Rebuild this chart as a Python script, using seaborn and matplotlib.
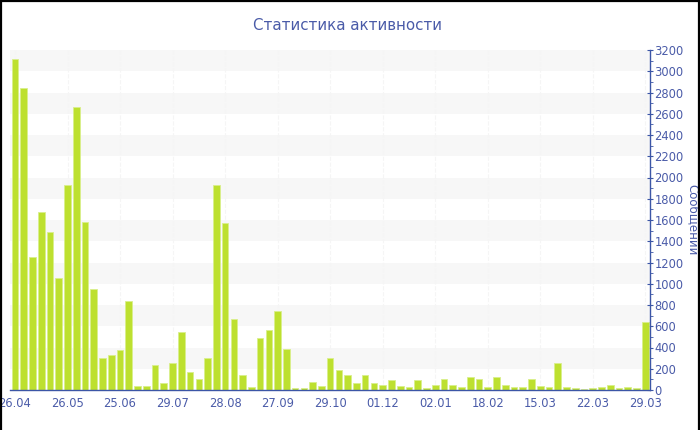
import numpy as np
import pandas as pd
import matplotlib
matplotlib.use("Agg")
import matplotlib.pyplot as plt
import seaborn as sns
from matplotlib.ticker import MultipleLocator

# данные (сообщений за период)
values = [3120, 2840, 1250, 1680, 1490, 1050, 1930, 2660, 1580, 950,
          300, 325, 380, 835, 35, 35, 235, 65, 250, 545,
          166, 107, 300, 1925, 1570, 665, 140, 28, 490, 565,
          740, 390, 22, 22, 80, 38, 300, 185, 140, 66,
          141, 63, 47, 91, 35, 25, 91, 16, 47, 100,
          44, 28, 120, 105, 31, 125, 44, 25, 25, 100,
          41, 25, 250, 31, 16, 9, 16, 28, 47, 19,
          28, 16, 640]
tick_pos = [0, 6, 12, 18, 24, 30, 36, 42, 48, 54, 60, 66, 72]
tick_labels = ["26.04", "26.05", "25.06", "29.07", "28.08", "27.09", "29.10",
               "01.12", "02.01", "18.02", "15.03", "22.03", "29.03"]

TEXT = "#4a5ba8"
AXIS = "#3c56a6"
BAR = "#bde02f"

sns.set_style("white")
plt.rcParams["font.family"] = ["DejaVu Sans"]

df = pd.DataFrame({"idx": range(len(values)), "val": values})

fig = plt.figure(figsize=(7, 4.3), dpi=100)
ax = fig.add_axes([10 / 700, 40 / 430, 639.5 / 700, 340 / 430])

# полосы фона
for y0 in range(200, 3200, 400):
    ax.axhspan(y0, y0 + 200, color="#f7f7f7", zorder=0, lw=0)
for p in tick_pos:
    ax.axvline(p, color="#f5f5f5", lw=0.8, ls="--", zorder=0)

sns.barplot(data=df, x="idx", y="val", color=BAR, width=0.76,
            edgecolor="#d9ef8c", linewidth=0.6, saturation=1, ax=ax, zorder=2)

ax.set_xlim(-0.57, 72.48)
ax.set_ylim(0, 3200)
ax.yaxis.tick_right()
ax.yaxis.set_label_position("right")
ax.yaxis.set_major_locator(MultipleLocator(200))
ax.yaxis.set_minor_locator(MultipleLocator(100))
ax.set_xticks(tick_pos)
ax.set_xticklabels(tick_labels)
ax.set_xlabel("")
ax.set_ylabel("Сообщений", rotation=270, color=TEXT, fontsize=8.5, labelpad=11)

for s in ["top", "left"]:
    ax.spines[s].set_visible(False)
for s in ["bottom", "right"]:
    ax.spines[s].set_color(AXIS)
    ax.spines[s].set_linewidth(1)

ax.tick_params(axis="y", which="major", direction="inout", length=5, color=AXIS,
               labelcolor=TEXT, labelsize=8.3, pad=1, right=True, left=False)
ax.tick_params(axis="y", which="minor", direction="out", length=2.5, color=AXIS,
               right=True, left=False)
ax.tick_params(axis="x", direction="out", length=3, color=AXIS,
               labelcolor=TEXT, labelsize=8.3, pad=2)

fig.text(0.497, 1 - 25 / 430, "Статистика активности", ha="center", va="center",
         color=TEXT, fontsize=10.8)

# рамка
for xs, ys in [([0.0015, 0.0015], [0, 1]), ([0, 1], [0.998, 0.998]), ([0.9985, 0.9985], [0, 1])]:
    fig.add_artist(plt.Line2D(xs, ys, color="black", lw=1.6, transform=fig.transFigure))

fig.savefig("out.png", dpi=100)
